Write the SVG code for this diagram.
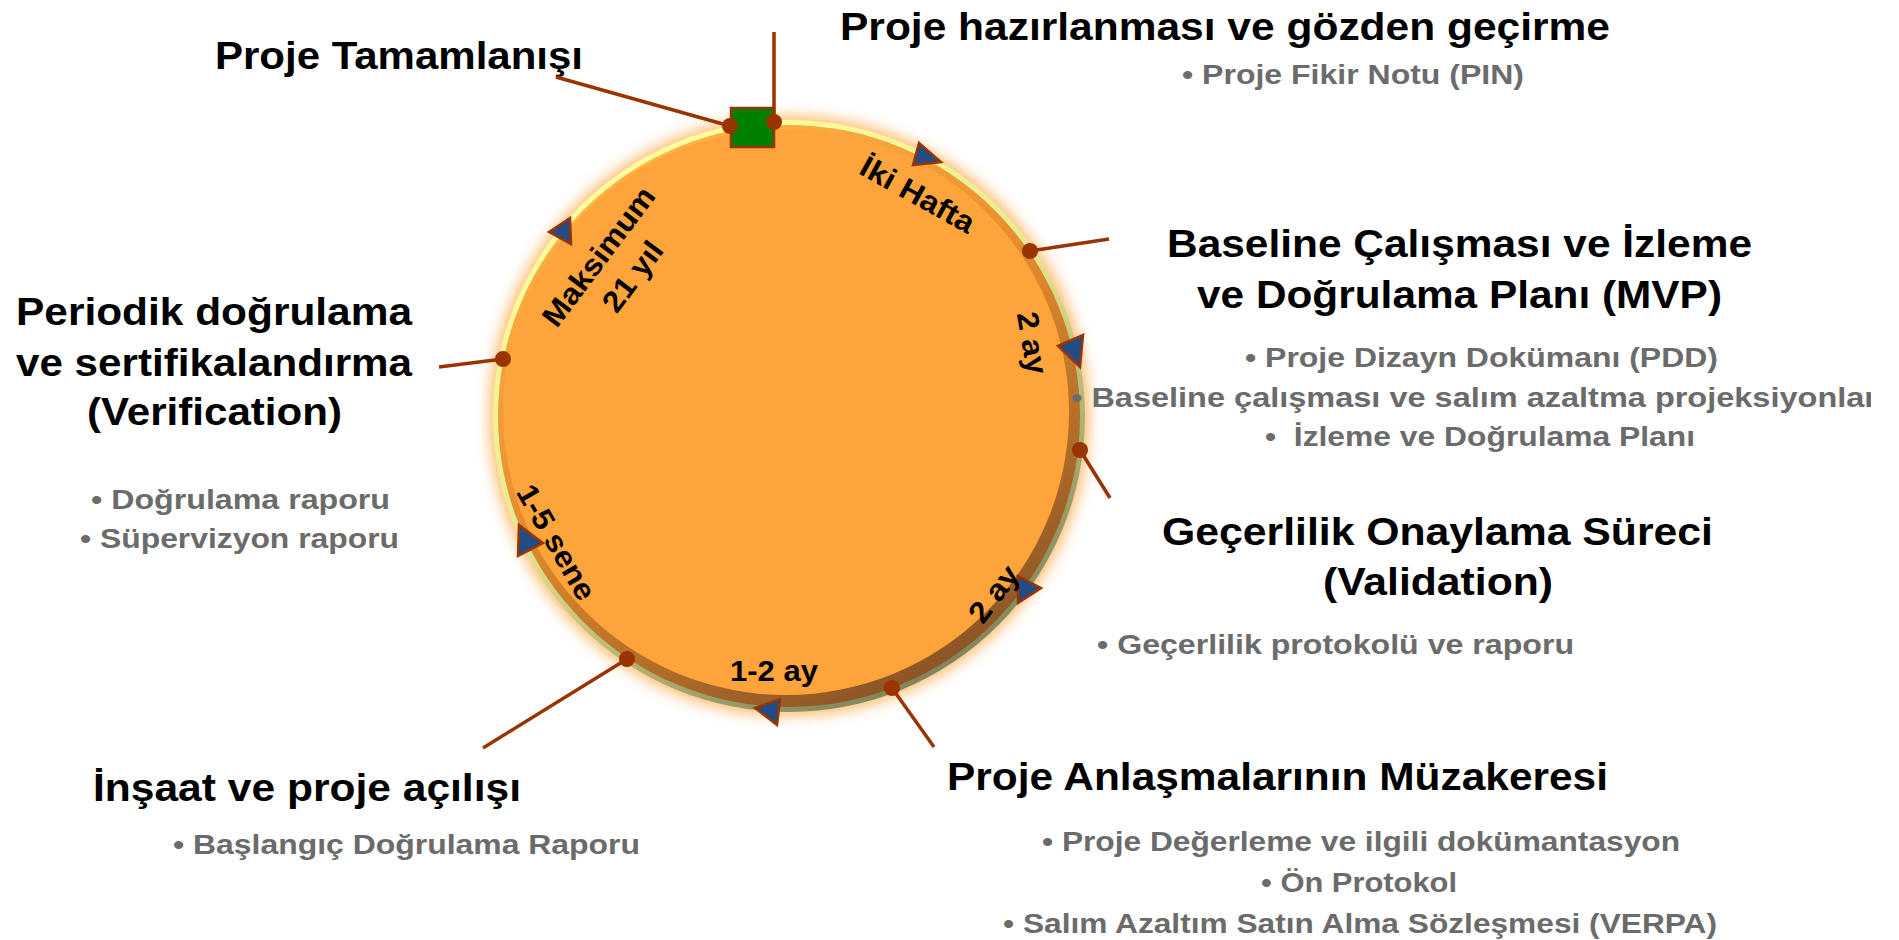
<svg xmlns="http://www.w3.org/2000/svg" width="1899" height="940" viewBox="0 0 1899 940">
<style>
.t{font-family:"Liberation Sans",Arial,sans-serif;font-weight:bold;font-size:39px;fill:#000}
.b{font-family:"Liberation Sans",Arial,sans-serif;font-weight:bold;font-size:27px;fill:#6b6b6b;white-space:pre}
.c{font-family:"Liberation Sans",Arial,sans-serif;font-weight:bold;font-size:30px;fill:#000;text-anchor:middle}
.ln{stroke:#993300;stroke-width:3.5;fill:none}
.dot{fill:#993300}
.tri{fill:#234c84;stroke:#993300;stroke-width:2.5}
</style>
<defs>
<filter id="glow" x="-20%" y="-20%" width="140%" height="140%"><feGaussianBlur stdDeviation="7"/></filter>
<linearGradient id="rimOuter" x1="0.25" y1="0.05" x2="0.75" y2="0.95">
<stop offset="0" stop-color="#ffff9e"/><stop offset="0.45" stop-color="#e8e890"/><stop offset="1" stop-color="#7e8258"/>
</linearGradient>
<linearGradient id="rimBand" x1="0.25" y1="0.05" x2="0.75" y2="0.95">
<stop offset="0" stop-color="#ffb447"/><stop offset="0.45" stop-color="#e48c2c"/><stop offset="1" stop-color="#8a5426"/>
</linearGradient>
<clipPath id="clipR"><rect x="0" y="0" width="1871" height="940"/></clipPath>
</defs>

<g id="cycle">
<circle cx="789" cy="416" r="300" fill="#ffa640" opacity="0.75" filter="url(#glow)"/>
<circle cx="789" cy="416" r="296" fill="url(#rimOuter)"/>
<circle cx="789" cy="416" r="291" fill="url(#rimBand)"/>
<circle cx="786" cy="412" r="283" fill="#fda53b"/>
</g>

<g id="node-completion">
<rect x="731" y="108" width="43" height="39" fill="#008000" stroke="#993300" stroke-width="2.5"/>
<text class="t" x="215" y="69" textLength="368" lengthAdjust="spacingAndGlyphs">Proje Tamamlanışı</text>
</g>

<g id="node-preparation">
<text class="t" x="840" y="40" textLength="770" lengthAdjust="spacingAndGlyphs">Proje hazırlanması ve gözden geçirme</text>
<text class="b" x="1182" y="84" textLength="342" lengthAdjust="spacingAndGlyphs">• Proje Fikir Notu (PIN)</text>
</g>

<g id="node-baseline">
<text class="t" x="1167" y="257" textLength="585" lengthAdjust="spacingAndGlyphs">Baseline Çalışması ve İzleme</text>
<text class="t" x="1197" y="308" textLength="525" lengthAdjust="spacingAndGlyphs">ve Doğrulama Planı (MVP)</text>
<text class="b" x="1245" y="367" textLength="473" lengthAdjust="spacingAndGlyphs">• Proje Dizayn Dokümanı (PDD)</text>
<g clip-path="url(#clipR)">
<text class="b" x="1071" y="407" textLength="815" lengthAdjust="spacingAndGlyphs">• Baseline çalışması ve salım azaltma projeksiyonları</text>
</g>
<text class="b" x="1265" y="446" textLength="430" lengthAdjust="spacingAndGlyphs">•  İzleme ve Doğrulama Planı</text>
</g>

<g id="node-validation">
<text class="t" x="1162" y="545" textLength="551" lengthAdjust="spacingAndGlyphs">Geçerlilik Onaylama Süreci</text>
<text class="t" x="1323" y="595" textLength="230" lengthAdjust="spacingAndGlyphs">(Validation)</text>
<text class="b" x="1097" y="654" textLength="477" lengthAdjust="spacingAndGlyphs">• Geçerlilik protokolü ve raporu</text>
</g>

<g id="node-negotiation">
<text class="t" x="947" y="790" textLength="661" lengthAdjust="spacingAndGlyphs">Proje Anlaşmalarının Müzakeresi</text>
<text class="b" x="1042" y="851" textLength="638" lengthAdjust="spacingAndGlyphs">• Proje Değerleme ve ilgili dokümantasyon</text>
<text class="b" x="1261" y="892" textLength="196" lengthAdjust="spacingAndGlyphs">• Ön Protokol</text>
<text class="b" x="1003" y="933" textLength="714" lengthAdjust="spacingAndGlyphs">• Salım Azaltım Satın Alma Sözleşmesi (VERPA)</text>
</g>

<g id="node-construction">
<text class="t" x="93" y="801" textLength="428" lengthAdjust="spacingAndGlyphs">İnşaat ve proje açılışı</text>
<text class="b" x="173" y="854" textLength="467" lengthAdjust="spacingAndGlyphs">• Başlangıç Doğrulama Raporu</text>
</g>

<g id="node-verification">
<text class="t" x="16" y="325" textLength="396" lengthAdjust="spacingAndGlyphs">Periodik doğrulama</text>
<text class="t" x="16" y="376" textLength="396" lengthAdjust="spacingAndGlyphs">ve sertifikalandırma</text>
<text class="t" x="87" y="425" textLength="255" lengthAdjust="spacingAndGlyphs">(Verification)</text>
<text class="b" x="91" y="509" textLength="299" lengthAdjust="spacingAndGlyphs">• Doğrulama raporu</text>
<text class="b" x="80" y="548" textLength="319" lengthAdjust="spacingAndGlyphs">• Süpervizyon raporu</text>
</g>

<g id="durations">
<polygon class="tri" points="919,143 913,165 941,162"/>
<polygon class="tri" points="1058,346 1083,335 1080,367"/>
<polygon class="tri" points="1018,576 1041,588 1018,603"/>
<polygon class="tri" points="755,708 780,699 777,725"/>
<polygon class="tri" points="519,525 543,543 518,556"/>
<polygon class="tri" points="549,232 570,218 571,244"/>
<text class="c" transform="translate(918,194) rotate(29)" y="11" textLength="126" lengthAdjust="spacingAndGlyphs">İki Hafta</text>
<text class="c" transform="translate(1032,343) rotate(80)" y="10" textLength="63" lengthAdjust="spacingAndGlyphs">2 ay</text>
<text class="c" transform="translate(994,594) rotate(-53)" y="10" textLength="63" lengthAdjust="spacingAndGlyphs">2 ay</text>
<text class="c" x="774" y="681" textLength="88" lengthAdjust="spacingAndGlyphs">1-2 ay</text>
<text class="c" transform="translate(557,542) rotate(60)" y="11" textLength="128" lengthAdjust="spacingAndGlyphs">1-5 sene</text>
<text class="c" transform="translate(598,256) rotate(-53)" y="11" textLength="166" lengthAdjust="spacingAndGlyphs">Maksimum</text>
<text class="c" transform="translate(632,276) rotate(-53)" y="11" textLength="80" lengthAdjust="spacingAndGlyphs">21 yıl</text>
</g>

<g id="connectors">
<line class="ln" x1="556" y1="77" x2="730" y2="126"/>
<line class="ln" x1="774" y1="32" x2="774" y2="122"/>
<line class="ln" x1="1109" y1="239" x2="1030" y2="251"/>
<line class="ln" x1="439" y1="367" x2="503" y2="359"/>
<line class="ln" x1="1110" y1="498" x2="1080" y2="450"/>
<line class="ln" x1="934" y1="747" x2="892" y2="688"/>
<line class="ln" x1="483" y1="748" x2="627" y2="659"/>
<circle class="dot" cx="730" cy="126" r="8"/>
<circle class="dot" cx="774" cy="122" r="8"/>
<circle class="dot" cx="1030" cy="251" r="8"/>
<circle class="dot" cx="503" cy="359" r="8"/>
<circle class="dot" cx="1080" cy="450" r="8"/>
<circle class="dot" cx="892" cy="688" r="8"/>
<circle class="dot" cx="627" cy="659" r="8"/>
</g>
</svg>
